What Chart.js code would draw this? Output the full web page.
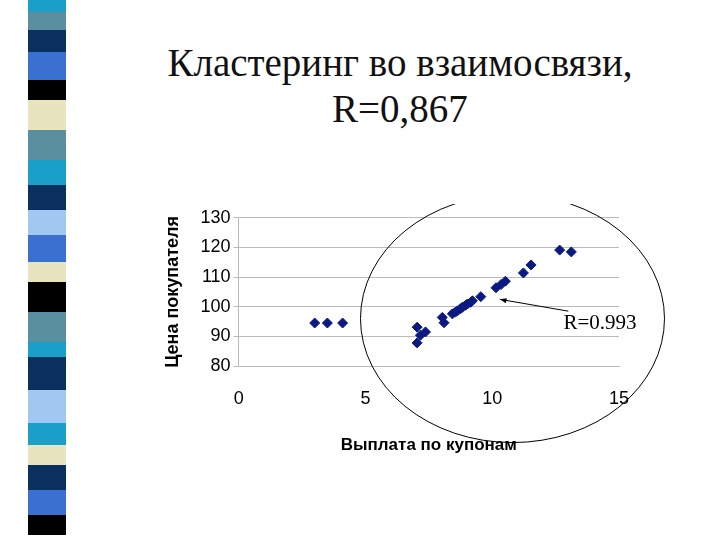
<!DOCTYPE html><html><head><meta charset="utf-8">
<script src="https://cdn.jsdelivr.net/npm/chart.js@4"></script>
<style>
body{margin:0;width:720px;height:540px;background:#fff;position:relative;overflow:hidden;font-family:"Liberation Serif",serif}
#stripe{position:absolute;left:28px;top:0;width:38px;height:540px}
#stripe div{width:100%}
h1{position:absolute;left:80px;width:640px;top:40px;margin:0;text-align:center;font-weight:normal;font-size:39px;line-height:46px;color:#111}
#wrap{position:absolute;left:158px;top:204px;width:532px;height:256px}
</style></head><body>
<div id="stripe"></div>
<h1>Кластеринг во взаимосвязи,<br>R=0,867</h1>
<div id="wrap"><canvas id="c"></canvas></div>
<script>
const stripes=[["#1aa0c8",12],["#5a8fa0",18],["#0a3060",22],["#3a70d0",28],["#000",20],["#e8e4c0",30],["#5a8fa0",30],["#1aa0c8",25],["#0a3060",25],["#a0c8f0",25],["#3a70d0",27],["#e8e4c0",20],["#000",30],["#5a8fa0",30],["#1aa0c8",15],["#0a3060",33],["#a0c8f0",33],["#1aa0c8",22],["#e8e4c0",20],["#0a3060",25],["#3a70d0",25],["#000",20]];
const s=document.getElementById('stripe');stripes.forEach(([c,h])=>{const d=document.createElement('div');d.style.background=c;d.style.height=h+'px';s.appendChild(d);});
const xVals=[3.0,3.5,4.1,7.04,7.04,7.37,7.17,8.03,8.1,8.43,8.55,8.63,8.75,8.82,8.95,9.02,9.15,9.22,9.55,10.15,10.35,10.52,11.23,11.53,12.66,13.12];
const yVals=[94.5,94.5,94.5,93.1,87.8,91.5,90.4,96.4,94.6,97.6,98.2,98.6,99.3,99.8,100.5,100.9,101.5,102,103.4,106.4,107.5,108.6,111.4,114.1,119.1,118.5];
const xTicks=[0,5,10,15], yTicks=[80,90,100,110,120,130];
const pts=xVals.map((x,i)=>({x,y:yVals[i]}));
const deco={id:'deco',afterDraw(ch){const c=ch.ctx,xs=ch.scales.x,ys=ch.scales.y;c.save();c.strokeStyle='#000';c.lineWidth=1;
c.beginPath();c.ellipse(xs.getPixelForValue(10.8),ys.getPixelForValue(96),152,124,0,0,Math.PI*2);c.stroke();
const ax=xs.getPixelForValue(10.3),ay=ys.getPixelForValue(102.5),bx=xs.getPixelForValue(13),by=ys.getPixelForValue(98.5);
c.beginPath();c.moveTo(bx,by);c.lineTo(ax,ay);c.stroke();
c.beginPath();c.moveTo(ax,ay);c.lineTo(ax+7,ay-1);c.lineTo(ax+6,ay+4);c.closePath();c.fill();
c.fillStyle='#000';c.font='21px "Liberation Serif"';c.textAlign='center';c.textBaseline='middle';
c.fillText('R=0.993',xs.getPixelForValue(14.25),ys.getPixelForValue(94.3));c.restore();}};
new Chart(document.getElementById('c'),{type:'scatter',data:{datasets:[{data:pts,pointStyle:'rectRot',radius:5,hoverRadius:5,backgroundColor:'#0a1a80',borderColor:'#0a1a80'}]},
options:{responsive:true,maintainAspectRatio:false,animation:false,plugins:{legend:{display:false},tooltip:{enabled:false}},
layout:{padding:{right:71,top:10}},
scales:{x:{type:'linear',min:0,max:15,afterBuildTicks:a=>{a.ticks=xTicks.map(v=>({value:v}))},grid:{display:false},border:{color:'#bbb'},ticks:{color:'#000',padding:14,font:{family:'Liberation Sans',size:18}},
title:{display:true,text:'Выплата по купонам',color:'#000',font:{family:'Liberation Sans',size:17,weight:'bold'},padding:{top:12}}},
y:{min:80,max:130,afterBuildTicks:a=>{a.ticks=yTicks.map(v=>({value:v}))},grid:{color:'#bbb',drawTicks:true,tickLength:5},border:{color:'#bbb'},ticks:{color:'#000',font:{family:'Liberation Sans',size:18}},
title:{display:true,text:'Цена покупателя',color:'#000',font:{family:'Liberation Sans',size:18,weight:'bold'},padding:{bottom:14}}}}},plugins:[deco]});
</script></body></html>
